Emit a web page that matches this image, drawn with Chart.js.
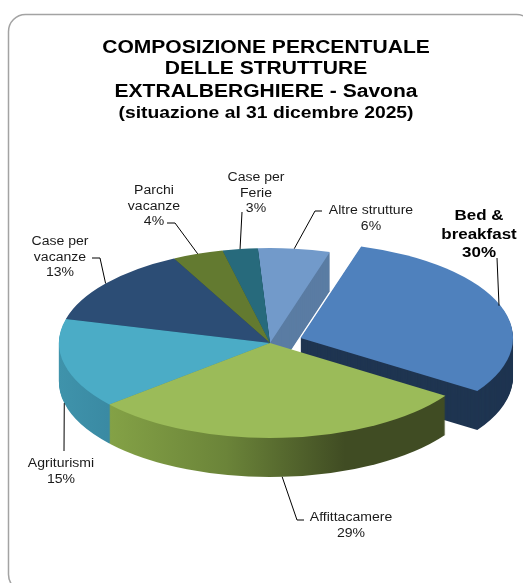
<!DOCTYPE html>
<html>
<head>
<meta charset="utf-8">
<script src="https://cdn.jsdelivr.net/npm/chart.js@4"></script>
<style>
  html, body { margin: 0; padding: 0; background: #fff; }
  canvas { display: block; }
</style>
</head>
<body>
<canvas id="chart" width="523" height="583"></canvas>
<script>
const titleLines = ['COMPOSIZIONE PERCENTUALE', 'DELLE STRUTTURE', 'EXTRALBERGHIERE - Savona'];
const subtitleLine = '(situazione al 31 dicembre 2025)';

const categories = ['Bed & breakfast', 'Affittacamere', 'Agriturismi', 'Case per vacanze', 'Parchi vacanze', 'Case per Ferie', 'Altre strutture'];
// printed labels are these rounded
const values = [29.8, 29.4, 15.3, 13.4, 3.9, 2.7, 5.5];

const topColors = ['#4f81bd', '#9bbb59', '#4bacc6', '#2c4d75', '#637a30', '#276a7c', '#729aca'];
const sideColors = ['#1f3551', null, null, '#1f3a58', '#48591f', '#1c4f5d', '#5a7ca3'];

// how the label text wraps, and where it sits
const labelLines = [['Bed &', 'breakfast'], ['Affittacamere'], ['Agriturismi'], ['Case per', 'vacanze'], ['Parchi', 'vacanze'], ['Case per', 'Ferie'], ['Altre strutture']];
const labelCenters = [[479, 216], [351, 517.5], [61, 463.5], [60, 241.5], [154, 190.5], [256, 177.5], [371, 210.5]];
const labelElbows = [[[497, 258]], [[297, 520], [304, 520]], [[64, 451]], [[100, 258], [92, 258]], [[175, 223], [167, 223]], [[242, 212]], [[315, 211], [322, 211]]];

const squash = 0.45;
const depth = 39;
const stretch = 1.17; // the reference text is wider than the plain font
const drawOrder = [6, 5, 4, 3, 2, 0, 1];
const frontSlices = [1, 2];
const fontFamily = '"Liberation Sans", Arial, sans-serif';

function sideFill(ctx, i) {
  if (i === 1) {
    const g = ctx.createLinearGradient(108, 0, 345, 0);
    g.addColorStop(0, '#84a246');
    g.addColorStop(0.5, '#6b8439');
    g.addColorStop(1, '#404c23');
    return g;
  }
  if (i === 2) {
    const g = ctx.createLinearGradient(59, 0, 108, 0);
    g.addColorStop(0, '#3f93ab');
    g.addColorStop(1, '#3a8aa3');
    return g;
  }
  return sideColors[i];
}

function wideText(ctx, text, x, y) {
  ctx.save();
  ctx.translate(x, y);
  ctx.scale(stretch, 1);
  ctx.fillText(text, 0, 0);
  ctx.restore();
}

const pie3d = {
  id: 'pie3d',
  beforeDraw(chart) {
    const ctx = chart.ctx;
    ctx.save();
    ctx.fillStyle = '#fff';
    ctx.fillRect(0, 0, chart.width, chart.height);
    ctx.strokeStyle = '#a3a3a3';
    ctx.lineWidth = 1.5;
    ctx.beginPath();
    ctx.roundRect(8.5, 14.5, 525, 577, 17);
    ctx.stroke();
    ctx.restore();
  },
  beforeDatasetsDraw(chart) {
    const ctx = chart.ctx;
    const arcs = chart.getDatasetMeta(0).data;
    const cx = arcs[0].x, cy = arcs[0].y;
    const flatten = (shift) => {
      ctx.translate(cx, cy + shift);
      ctx.scale(1, squash);
      ctx.translate(-cx, -cy);
    };
    drawOrder.forEach((i) => {
      const arc = arcs[i];
      const opts = arc.options;
      arc.options = { ...opts, backgroundColor: sideFill(ctx, i) };
      for (let d = depth; d > 0; d--) {
        ctx.save();
        flatten(d);
        arc.draw(ctx);
        ctx.restore();
      }
      arc.options = opts;
      ctx.save();
      flatten(0);
      arc.draw(ctx);
      ctx.restore();
    });
    return false;
  },
  afterDraw(chart) {
    const ctx = chart.ctx;
    const arcs = chart.getDatasetMeta(0).data;
    const cx = arcs[0].x, cy = arcs[0].y;
    ctx.save();
    ctx.textAlign = 'center';
    ctx.textBaseline = 'middle';

    ctx.fillStyle = '#000';
    ctx.font = 'bold 18px ' + fontFamily;
    wideText(ctx, titleLines[0], 266, 48);
    wideText(ctx, titleLines[1], 266, 69);
    wideText(ctx, titleLines[2], 266, 92);
    ctx.font = 'bold 16.5px ' + fontFamily;
    wideText(ctx, subtitleLine, 266, 113);

    arcs.forEach((arc, i) => {
      const mid = (arc.startAngle + arc.endAngle) / 2;
      const shift = arc.options.offset / 4;
      const x = cx + Math.cos(mid) * (arc.outerRadius + shift);
      let y = cy + Math.sin(mid) * (arc.outerRadius + shift) * squash;
      if (frontSlices.includes(i)) y += depth;

      ctx.strokeStyle = '#000';
      ctx.lineWidth = 1;
      ctx.beginPath();
      ctx.moveTo(x, y);
      labelElbows[i].forEach((p) => ctx.lineTo(p[0], p[1]));
      ctx.stroke();

      const bold = i === 0;
      const lines = [...labelLines[i], Math.round(values[i]) + '%'];
      const step = bold ? 18.5 : 15.7;
      ctx.font = (bold ? 'bold 14.5px ' : '12px ') + fontFamily;
      ctx.fillStyle = bold ? '#000' : '#1a1a1a';
      lines.forEach((t, n) => {
        wideText(ctx, t, labelCenters[i][0], labelCenters[i][1] + n * step);
      });
    });
    ctx.restore();
  }
};

new Chart(document.getElementById('chart'), {
  type: 'pie',
  data: {
    labels: categories,
    datasets: [{
      data: values,
      backgroundColor: topColors,
      borderWidth: 0,
      offset: [130, 0, 0, 0, 0, 0, 0]
    }]
  },
  options: {
    responsive: false,
    animation: false,
    rotation: 16.5,
    radius: 211,
    layout: { padding: { left: 17, top: 103 } },
    plugins: {
      legend: { display: false },
      tooltip: { enabled: false }
    }
  },
  plugins: [pie3d]
});
</script>
</body>
</html>
